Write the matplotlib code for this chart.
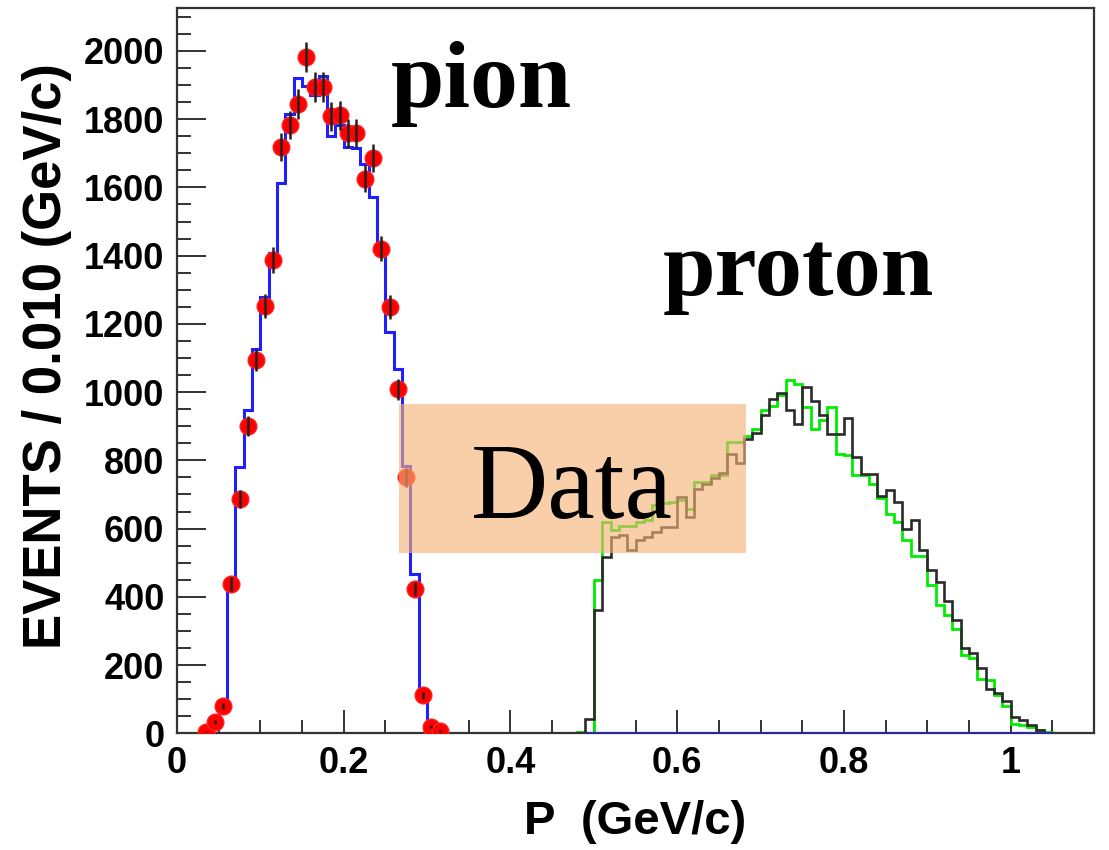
import numpy as np
import matplotlib
matplotlib.use("Agg")
import matplotlib.pyplot as plt
from matplotlib.patches import Rectangle
from matplotlib.ticker import MultipleLocator

BIN = 0.01

# pion peak: MC histogram (bins starting at 0.03) and data points at bin centres
pion_lo = 0.03
pion_mc = [10, 20, 92, 449, 781, 947, 1126, 1279, 1408, 1614, 1815, 1922, 1897, 1871,
           1927, 1751, 1783, 1719, 1715, 1670, 1573, 1416, 1177, 1069, 783, 468, 124, 23]
pion_data = [5, 33, 79, 437, 686, 900, 1094, 1252, 1387, 1719, 1783, 1845, 1983, 1895,
             1895, 1808, 1812, 1759, 1759, 1626, 1685, 1421, 1250, 1008, 750, 424, 111, 19, 7]

# proton peak: two histograms, bins starting at 0.48
proton_lo = 0.48
proton_black = [2, 43, 361, 518, 575, 581, 537, 566, 576, 590, 605, 605, 693, 634, 717,
                732, 747, 762, 820, 791, 864, 880, 933, 979, 998, 949, 908, 1016, 975, 933,
                876, 876, 923, 810, 761, 761, 695, 712, 679, 600, 624, 537, 480, 443, 388,
                331, 249, 236, 190, 131, 118, 95, 48, 40, 23, 11, 1]
proton_green = [3, 2, 449, 620, 595, 607, 607, 620, 625, 669, 674, 679, 683, 656, 737,
                737, 757, 757, 854, 854, 870, 893, 949, 960, 991, 1037, 1025, 957, 893, 918,
                957, 820, 815, 757, 757, 732, 691, 644, 620, 566, 519, 519, 435, 375, 346,
                307, 229, 220, 160, 155, 111, 81, 28, 23, 18, 10, 5]
# pion histogram over the proton momentum range (empty)
pion_hi_lo = 0.49
pion_hi = [0] * 56


def edges(lo, n):
    return lo + BIN * np.arange(n + 1)


fig = plt.figure(figsize=(11.09, 8.5), dpi=100)
ax = fig.add_axes([0.1596, 0.1373, 0.8269, 0.8533])

sans = ["Liberation Sans", "DejaVu Sans"]
serif = ["Liberation Serif", "DejaVu Serif"]

ax.stairs(proton_green, edges(proton_lo, len(proton_green)), color="#00ee00", lw=2, zorder=2)
ax.stairs(proton_black, edges(proton_lo, len(proton_black)), color="#2a2a2a", lw=1.9, zorder=3)
ax.stairs(pion_hi, edges(pion_hi_lo, len(pion_hi)), color="#2020ff", lw=2.2, zorder=4)
ax.stairs(pion_mc, edges(pion_lo, len(pion_mc)), color="#2020ff", lw=2.2, zorder=4)

pd_x = pion_lo + BIN * (np.arange(len(pion_data)) + 0.5)
pd_y = np.array(pion_data, dtype=float)
ax.plot(pd_x, pd_y, "o", color="#ff0000", ms=12, mec="#ff2020", zorder=5)
ax.errorbar(pd_x, pd_y, yerr=np.sqrt(pd_y), fmt="none", ecolor="#222222",
            elinewidth=1.8, zorder=6)

# label box
ax.add_patch(Rectangle((0.266, 528), 0.417, 437, facecolor=(244/255, 179/255, 117/255),
                       alpha=0.63, edgecolor="none", zorder=7))
ax.text(0.353, 630, "Data", family=serif, fontsize=77, zorder=8)
ax.text(0.257, 1836, "pion", family=serif, fontsize=69, fontweight="bold", zorder=8)
ax.text(0.583, 1284, "proton", family=serif, fontsize=68, fontweight="bold", zorder=8)

ax.set_xlim(0, 1.1)
ax.set_ylim(0, 2126)
ax.xaxis.set_major_locator(MultipleLocator(0.2))
ax.xaxis.set_minor_locator(MultipleLocator(0.05))
ax.yaxis.set_major_locator(MultipleLocator(200))
ax.yaxis.set_minor_locator(MultipleLocator(50))
ax.set_xticks([0, 0.2, 0.4, 0.6, 0.8, 1.0])
ax.set_xticklabels(["0", "0.2", "0.4", "0.6", "0.8", "1"])

ax.tick_params(axis="x", which="major", direction="in", length=16.5, width=1.4,
               color="#333333", pad=9)
ax.tick_params(axis="x", which="minor", direction="in", length=9.5, width=1.4, color="#333333")
ax.tick_params(axis="y", which="major", direction="in", length=21, width=1.4,
               color="#333333", pad=9)
ax.tick_params(axis="y", which="minor", direction="in", length=10, width=1.4, color="#333333")
for lab in ax.get_xticklabels() + ax.get_yticklabels():
    lab.set_family(sans)
    lab.set_fontweight("bold")
    lab.set_fontsize(26)

for s in ax.spines.values():
    s.set_color("#333333")
    s.set_linewidth(1.6)

ax.set_xlabel("P  (GeV/c)", family=sans, fontweight="bold", fontsize=34, labelpad=14)
ax.set_ylabel("EVENTS / 0.010 (GeV/c)", family=sans, fontweight="bold", fontsize=38)
ax.yaxis.set_label_coords(-0.115, 0.52)

fig.savefig("out.png", dpi=100)
